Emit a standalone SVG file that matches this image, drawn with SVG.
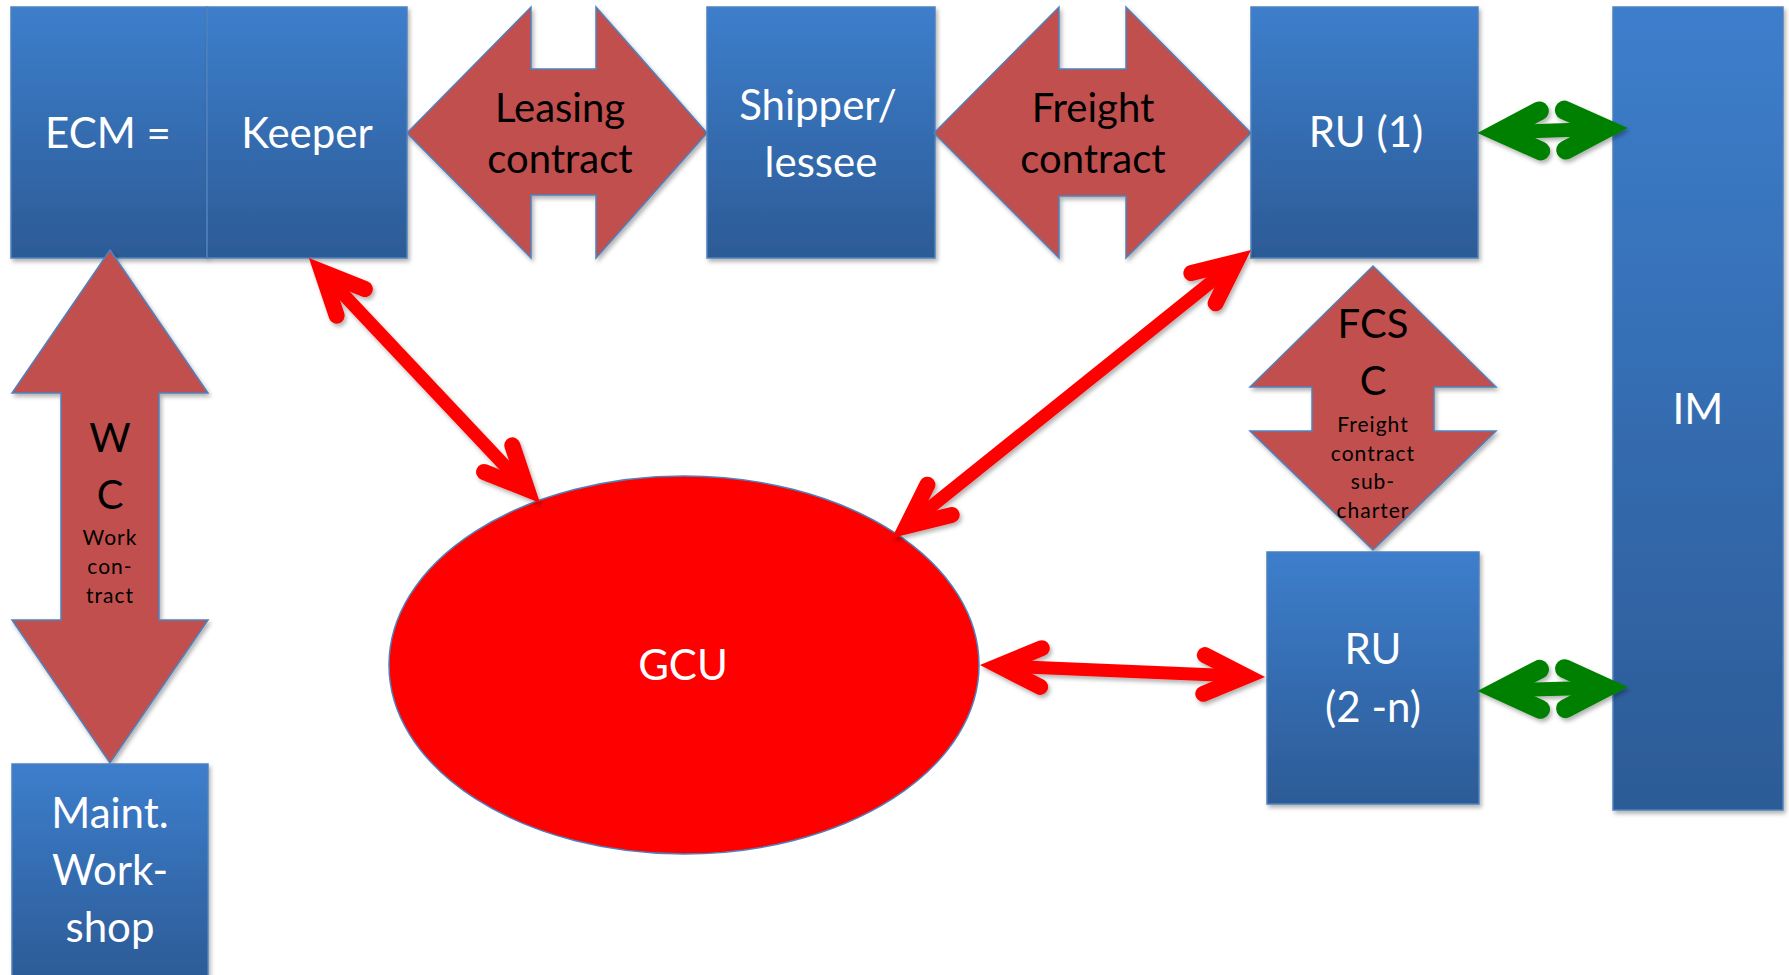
<svg xmlns="http://www.w3.org/2000/svg" width="1789" height="975" viewBox="0 0 1789 975">
<style>
.box{fill:url(#blue);stroke:#4f81bd;stroke-width:1.5;filter:url(#sh)}
.ctr{fill:#c0504d;stroke:#4f81bd;stroke-width:1.5;filter:url(#sh)}
.wt{fill:#ffffff;font-family:Lato,"Liberation Sans",sans-serif;font-size:42px;text-anchor:middle}
.bk{fill:#000000;font-family:Lato,"Liberation Sans",sans-serif;font-size:40px;text-anchor:middle}
.sm{fill:#000000;font-family:Lato,"Liberation Sans",sans-serif;font-size:21px;text-anchor:middle;letter-spacing:1px}
.red{stroke:#ff0000;stroke-width:13;fill:none;marker-start:url(#hr);marker-end:url(#hr)}
.grn{stroke:#008000;stroke-width:14;fill:none;marker-start:url(#hg);marker-end:url(#hg)}
</style>
<defs>
<linearGradient id="blue" x1="0" y1="0" x2="0" y2="1">
<stop offset="0" stop-color="#3d7ecc"/>
<stop offset="1" stop-color="#2c5b96"/>
</linearGradient>
<filter id="sh" x="-10%" y="-10%" width="130%" height="130%">
<feDropShadow dx="2" dy="3" stdDeviation="2" flood-color="#000" flood-opacity="0.3"/>
</filter>
<filter id="shc" filterUnits="userSpaceOnUse" x="0" y="0" width="1789" height="975">
<feDropShadow dx="2" dy="3" stdDeviation="2" flood-color="#000" flood-opacity="0.3"/>
</filter>
<marker id="hr" viewBox="-90 -45 100 90" markerWidth="100" markerHeight="90" refX="-19" refY="0" orient="auto-start-reverse" markerUnits="userSpaceOnUse" overflow="visible">
<path d="M -61 -19.4 L -19 0 L -61 19.4" fill="none" stroke="#ff0000" stroke-width="16" stroke-linecap="round" stroke-linejoin="miter" stroke-miterlimit="10"/>
</marker>
<marker id="hg" viewBox="-90 -45 100 90" markerWidth="100" markerHeight="90" refX="-21" refY="0" orient="auto-start-reverse" markerUnits="userSpaceOnUse" overflow="visible">
<path d="M -62 -20 L -21 0 L -62 20" fill="none" stroke="#008000" stroke-width="19" stroke-linecap="round" stroke-linejoin="miter" stroke-miterlimit="10"/>
</marker>
</defs>
<rect width="1789" height="975" fill="#ffffff"/>

<g id="ecm">
<rect class="box" x="11" y="7" width="196" height="251"/>
<text class="wt" x="108" y="148">ECM =</text>
</g>
<g id="keeper">
<rect class="box" x="207" y="7" width="200" height="251"/>
<text class="wt" x="307" y="148">Keeper</text>
</g>
<g id="leasing-contract">
<polygon class="ctr" points="407,133 531,7 531,69 596,69 596,7 707,133 596,258 596,195 531,195 531,258"/>
<text class="bk" x="560" y="122">Leasing</text>
<text class="bk" x="560" y="173">contract</text>
</g>
<g id="shipper">
<rect class="box" x="707" y="7" width="228" height="251"/>
<text class="wt" x="818" y="120">Shipper/</text>
<text class="wt" x="821" y="177">lessee</text>
</g>
<g id="freight-contract">
<polygon class="ctr" points="934,133 1059,7 1059,69 1126,69 1126,7 1251,133 1126,258 1126,196 1059,196 1059,258"/>
<text class="bk" x="1093" y="122">Freight</text>
<text class="bk" x="1093" y="173">contract</text>
</g>
<g id="ru1">
<rect class="box" x="1251" y="7" width="227" height="251"/>
<text class="wt" x="1366" y="147">RU (1)</text>
</g>
<g id="im">
<rect class="box" x="1613" y="7" width="170" height="803"/>
<text class="wt" x="1698" y="424">IM</text>
</g>
<g id="fcsc">
<polygon class="ctr" points="1373,266 1496,387 1434,387 1434,431 1496,431 1373,550 1250,431 1312,431 1312,387 1250,387"/>
<text class="bk" x="1373" y="338" font-size="42">FCS</text>
<text class="bk" x="1373" y="395" font-size="42">C</text>
<text class="sm" x="1373" y="432">Freight</text>
<text class="sm" x="1373" y="461">contract</text>
<text class="sm" x="1373" y="489">sub-</text>
<text class="sm" x="1373" y="518">charter</text>
</g>
<g id="ru2n">
<rect class="box" x="1267" y="552" width="212" height="252"/>
<text class="wt" x="1373" y="664">RU</text>
<text class="wt" x="1373" y="722">(2 -n)</text>
</g>
<g id="wc">
<polygon class="ctr" points="110,250 208,393 159,393 159,620 208,620 110,763 12,620 61,620 61,393 12,393"/>
<text class="bk" x="110" y="452" font-size="42">W</text>
<text class="bk" x="110" y="509" font-size="42">C</text>
<text class="sm" x="110" y="545">Work</text>
<text class="sm" x="110" y="574">con-</text>
<text class="sm" x="110" y="603">tract</text>
</g>
<g id="maint">
<rect class="box" x="12" y="764" width="196" height="216"/>
<text class="wt" x="110" y="828">Maint.</text>
<text class="wt" x="110" y="885">Work-</text>
<text class="wt" x="110" y="942">shop</text>
</g>
<g id="gcu">
<ellipse cx="684" cy="665" rx="295" ry="189" fill="#ff0000" stroke="#4f81bd" stroke-width="1.5"/>
<text class="wt" x="683" y="680" font-size="40">GCU</text>
</g>

<g id="connectors" filter="url(#shc)">
<line class="red" x1="322" y1="271.8" x2="527" y2="489.2"/>
<line class="red" x1="1236.2" y1="261.9" x2="906.8" y2="526.1"/>
<line class="red" x1="999" y1="665.8" x2="1246" y2="676.2"/>
<line class="grn" x1="1499" y1="132.3" x2="1606" y2="128.7"/>
<line class="grn" x1="1499" y1="690.4" x2="1606" y2="687.6"/>
</g>
</svg>
